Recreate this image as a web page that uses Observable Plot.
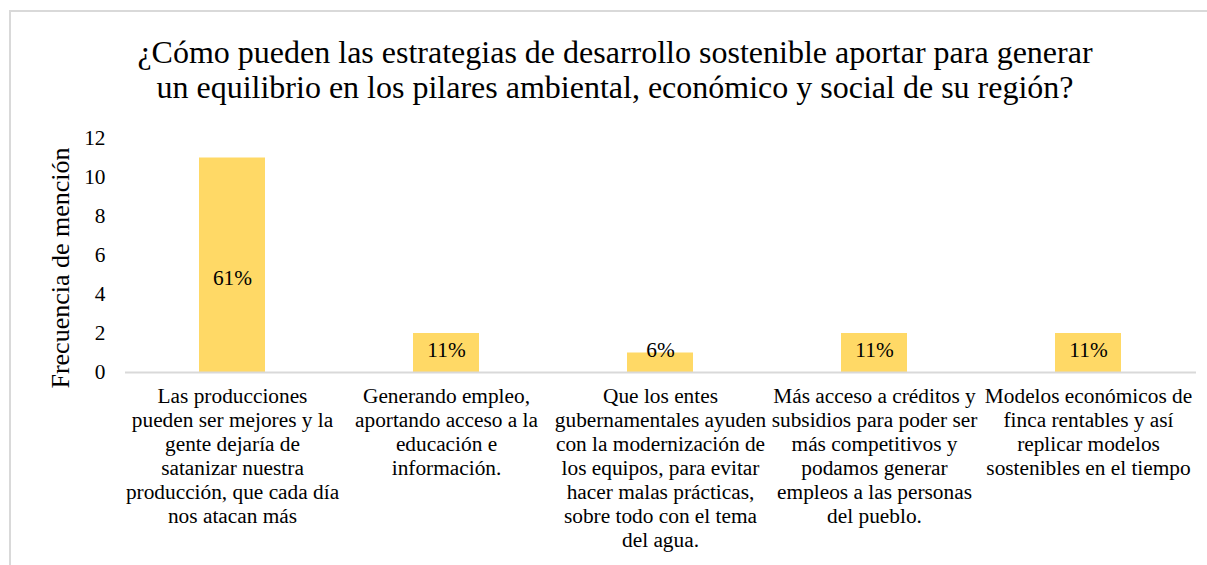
<!DOCTYPE html>
<html>
<head>
<meta charset="utf-8">
<script src="https://cdn.jsdelivr.net/npm/d3@7"></script>
<script src="https://cdn.jsdelivr.net/npm/@observablehq/plot@0.6"></script>
<style>
  html, body { margin: 0; padding: 0; background: #fff; overflow: hidden; font-family: 'Liberation Serif', serif; }
  #wrap { position: relative; width: 1207px; height: 565px; }
  #frame { position: absolute; left: 9px; top: 10px; width: 1220px; height: 580px; border: 2px solid #d9d9d9; box-sizing: border-box; }
  #title { position: absolute; left: 0; width: 1230px; top: 35px; text-align: center; font-size: 32px; line-height: 35px; color: #000; font-family: 'Liberation Serif', serif; white-space: nowrap; }
  #ylabel { position: absolute; left: 61px; top: 268px; transform: translate(-50%, -50%) rotate(-90deg); font-size: 26px; white-space: nowrap; color: #000; font-family: 'Liberation Serif', serif; }
  #chart { position: absolute; left: 0; top: 0; }
  #chart svg, #chart svg text { font-family: 'Liberation Serif', serif !important; }
</style>
</head>
<body>
<div id="wrap">
  <div id="frame"></div>
  <div id="chart"></div>
  <div id="title">¿Cómo pueden las estrategias de desarrollo sostenible aportar para generar<br>un equilibrio en los pilares ambiental, económico y social de su región?</div>
  <div id="ylabel">Frecuencia de mención</div>
</div>
<script>
const categories = [
  "Las producciones\npueden ser mejores y la\ngente dejaría de\nsatanizar nuestra\nproducción, que cada día\nnos atacan más",
  "Generando empleo,\naportando acceso a la\neducación e\ninformación.",
  "Que los entes\ngubernamentales ayuden\ncon la modernización de\nlos equipos, para evitar\nhacer malas prácticas,\nsobre todo con el tema\ndel agua.",
  "Más acceso a créditos y\nsubsidios para poder ser\nmás competitivos y\npodamos generar\nempleos a las personas\ndel pueblo.",
  "Modelos económicos de\nfinca rentables y así\nreplicar modelos\nsostenibles en el tiempo"
];
const frequencies = [11, 2, 1, 2, 2];
const percentLabels = ["61%", "11%", "6%", "11%", "11%"];
const yTicks = [0, 2, 4, 6, 8, 10, 12];

const data = categories.map((c, i) => ({category: c, value: frequencies[i], pct: percentLabels[i]}));

const plot = Plot.plot({
  width: 1207,
  height: 565,
  marginLeft: 125,
  marginRight: 11,
  marginTop: 138,
  marginBottom: 193,
  style: {fontFamily: "Liberation Serif", fontSize: "21.33px", color: "#000", background: "transparent"},
  x: {domain: categories, paddingInner: 0.69, paddingOuter: 0.345, label: null},
  y: {domain: [0, 12], label: null},
  marks: [
    Plot.barY(data, {x: "category", y: "value", fill: "#FFD966"}),
    Plot.ruleY([0], {stroke: "#d9d9d9", strokeWidth: 2}),
    Plot.text(data, {
      x: "category",
      y: d => Math.max(d.value * 0.44, 1.15),
      text: "pct",
      fontSize: 21.33,
      fill: "#000"
    }),
    Plot.axisY({ticks: yTicks, tickSize: 0, tickPadding: 20, fontSize: 21.33, label: null, fill: "#000"}),
    Plot.axisX({tickSize: 0, tickPadding: 13, fontSize: 21.33, lineHeight: 1.125, label: null, fill: "#000"})
  ]
});
document.getElementById("chart").appendChild(plot);
</script>
</body>
</html>
